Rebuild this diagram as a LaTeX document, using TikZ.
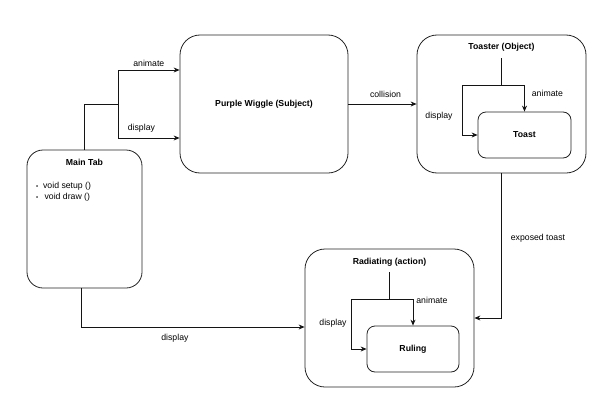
\documentclass[tikz,border=0pt]{standalone}
\usepackage{fontspec}
\setmainfont{Liberation Sans}
\usetikzlibrary{calc,arrows.meta,positioning}

\begin{document}
\begin{tikzpicture}[x=1pt, y=-1pt, >={Stealth[length=6pt,width=5pt]},
  font=\fontsize{8.7}{10.7}\selectfont]

  % Define colors
  \definecolor{boxline}{RGB}{35,35,35}
  \definecolor{linkblack}{RGB}{20,20,20}

  \tikzset{
    classbox/.style={draw=boxline, line width=0.8pt, rounded corners=#1, inner sep=0pt},
    classbox/.default=20pt,
    link/.style={draw=linkblack, line width=0.8pt, ->},
    linklabel/.style={inner sep=1pt},
    boxtitle/.style={font=\fontsize{8.7}{10.7}\selectfont\bfseries, inner sep=1pt}
  }

  \useasboundingbox (0,0) rectangle (612,412);

  % Main Tab
  \node[classbox=16pt, minimum width=115pt, minimum height=138pt] (main) at (84.5,219) {};
  \node[boxtitle] (maintitle) at (84.5,162) {Main Tab};
  \node[linklabel, anchor=north west, align=left] (mainlist) at (35,181)
    {{\fontsize{6}{6}\selectfont\textbullet}\ \ void setup ()\\
     {\fontsize{6}{6}\selectfont\textbullet}\ \ \,void draw ()};

  % Purple Wiggle (Subject)
  \node[classbox, minimum width=168pt, minimum height=138pt] (wiggle) at (264,104) {};
  \node[boxtitle] (wiggletitle) at (wiggle.center) {Purple Wiggle (Subject)};

  % Toaster (Object) with Toast
  \node[classbox, minimum width=169pt, minimum height=138pt] (toaster) at (501.5,104) {};
  \node[boxtitle] (toastertitle) at (501.5,47) {Toaster (Object)};
  \node[classbox=8pt, minimum width=93pt, minimum height=46pt] (toast) at (524.5,135) {};
  \node[boxtitle] (toasttitle) at (toast.center) {Toast};

  % Radiating (action) with Ruling
  \node[classbox, minimum width=169pt, minimum height=138pt] (radiating) at (389.5,318) {};
  \node[boxtitle] (radiatingtitle) at (389.5,262) {Radiating (action)};
  \node[classbox=8pt, minimum width=92pt, minimum height=46pt] (ruling) at (413,349) {};
  \node[boxtitle] (rulingtitle) at (ruling.center) {Ruling};

  % Main Tab -> Purple Wiggle
  \coordinate (wigglefork) at (118,104);
  \draw[link, -] (main.north) |- (wigglefork);
  \draw[link] (wigglefork) |- ($(wiggle.west)+(0,-34)$)
    node[linklabel, pos=0.75, above=2pt] {animate};
  \draw[link] (wigglefork) |- ($(wiggle.west)+(0,34)$)
    node[linklabel, pos=0.69, above=4pt] {display};

  % Purple Wiggle -> Toaster
  \draw[link] (wiggle.east) -- (toaster.west)
    node[linklabel, midway, above=5pt, xshift=3pt] {collision};

  % inside Toaster
  \coordinate (toastertop) at (501.5,58);
  \coordinate (toasterfork) at (501.5,85);
  \draw[link, -] (toastertop) -- (toasterfork);
  \draw[link] (toasterfork) -| (toast.north)
    node[linklabel, pos=0.65, right=6pt] {animate};
  \draw[link] (toasterfork) -| ($(toast.west)+(-15,0)$) -- (toast.west);
  \node[linklabel] (toasterdisplay) at (439,116) {display};

  % Toaster -> Radiating
  \draw[link] (toaster.south) |- (radiating.east)
    node[linklabel, pos=0.224, right=8pt] {exposed toast};

  % Main Tab -> Radiating
  \coordinate (mainfoot) at ($(main.south)+(-3.5,0)$);
  \draw[link] (mainfoot) |- ($(radiating.west)+(0,9)$)
    node[linklabel, pos=0.71, below=6pt] {display};

  % inside Radiating
  \coordinate (radiatingtop) at (389.5,272);
  \coordinate (radiatingfork) at (389.5,299);
  \draw[link, -] (radiatingtop) -- (radiatingfork);
  \draw[link] (radiatingfork) -| (ruling.north)
    node[linklabel, pos=0.5, anchor=west, xshift=2pt, yshift=-1pt] {animate};
  \draw[link] (radiatingfork) -| ($(ruling.west)+(-15,0)$) -- (ruling.west);
  \node[linklabel] (radiatingdisplay) at (333,323) {display};

\end{tikzpicture}
\end{document}
